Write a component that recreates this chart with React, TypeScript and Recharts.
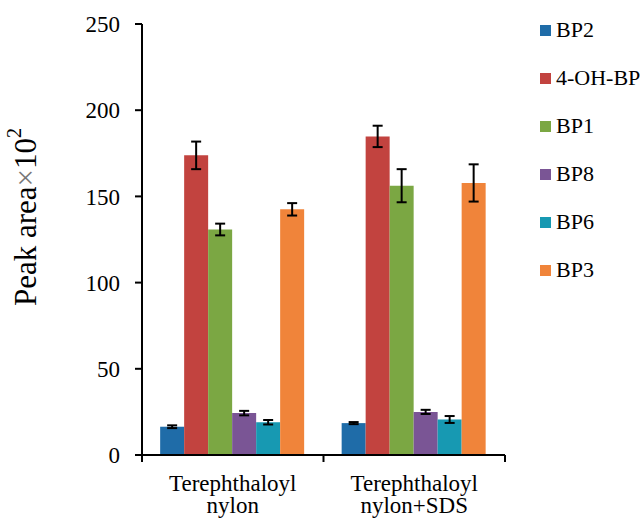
import React from "react";
import { BarChart, Bar, XAxis, YAxis, ErrorBar } from "recharts";

const categories = ["Terephthaloyl\nnylon", "Terephthaloyl\nnylon+SDS"];
const seriesNames = ["BP2", "4-OH-BP", "BP1", "BP8", "BP6", "BP3"];
const seriesColors = ["#1F6CA8", "#C2433F", "#7BA743", "#7A5595", "#1799B2", "#F0843A"];
const bp2 = [16.4, 18.5];
const ohbp = [173.8, 184.8];
const bp1 = [130.8, 156.2];
const bp8 = [24.3, 25.0];
const bp6 = [19.0, 20.6];
const bp3 = [142.5, 157.8];
const bp2Err = [0.8, 0.6];
const ohbpErr = [8, 6.2];
const bp1Err = [3.4, 9.6];
const bp8Err = [1.3, 1.2];
const bp6Err = [1.3, 2];
const bp3Err = [3.6, 10.8];
const yTicks = [0, 50, 100, 150, 200, 250];

const values = [bp2, ohbp, bp1, bp8, bp6, bp3];
const errors = [bp2Err, ohbpErr, bp1Err, bp8Err, bp6Err, bp3Err];

const data = categories.map((c, i) => {
  const row: Record<string, any> = { name: c };
  seriesNames.forEach((s, k) => {
    row["v" + k] = values[k][i];
    row["e" + k] = errors[k][i];
  });
  return row;
});

const W = 643;
const H = 519;
const margin = { top: 24, right: 138, bottom: 4, left: 62 };
const Y_W = 80;
const X_H = 60;
const plotW = W - margin.left - margin.right - Y_W;
const band = plotW / categories.length;
const FONT = "Liberation Serif, Times New Roman, serif";

const XTick = (props: any) => {
  const { x, y, payload, index } = props;
  const lines = String(payload.value).split("\n");
  const axisY = y;
  return (
    <g>
      {index === 0 && (
        <line x1={x - band / 2} x2={x - band / 2} y1={axisY} y2={axisY + 7} stroke="#000" strokeWidth={2} />
      )}
      <line x1={x + band / 2} x2={x + band / 2} y1={axisY} y2={axisY + 7} stroke="#000" strokeWidth={2} />
      <text x={x} y={axisY + 36} textAnchor="middle" fontFamily={FONT} fontSize={23} fill="#000">
        {lines.map((l, i) => (
          <tspan key={i} x={x} dy={i === 0 ? 0 : 22}>
            {l}
          </tspan>
        ))}
      </text>
    </g>
  );
};

const YLabel = () => (
  <text
    transform={`translate(25, 217) rotate(-90)`}
    textAnchor="middle"
    dominantBaseline="central"
    fontFamily={FONT}
    fontSize={31}
    fill="#000"
  >
    Peak area
    <tspan fill="#777">×</tspan>
    10
    <tspan dy={-11} fontSize={20}>2</tspan>
  </text>
);

export default function App() {
  return (
    <div style={{ position: "absolute", left: 0, top: 0, width: W, height: H, background: "#fff" }}>
      <BarChart width={W} height={H} data={data} margin={margin} barCategoryGap="10%" barGap={0}>
        <XAxis
          dataKey="name"
          height={X_H}
          axisLine={{ stroke: "#000", strokeWidth: 2 }}
          tickLine={false}
          tickSize={0}
          tickMargin={0}
          tick={<XTick />}
          interval={0}
        />
        <YAxis
          width={Y_W}
          domain={[0, 250]}
          ticks={yTicks}
          axisLine={{ stroke: "#000", strokeWidth: 2 }}
          tickLine={{ stroke: "#000", strokeWidth: 2 }}
          tickSize={7}
          tickMargin={15}
          tick={{ fill: "#000", fontFamily: FONT, fontSize: 23 }}
          label={<YLabel />}
        />
        {seriesNames.map((s, k) => (
          <Bar key={s} dataKey={"v" + k} name={s} fill={seriesColors[k]} isAnimationActive={false}>
            <ErrorBar dataKey={"e" + k} width={5} stroke="#000" strokeWidth={2} />
          </Bar>
        ))}
      </BarChart>
      <div style={{ position: "absolute", left: 540, top: 0 }}>
        {seriesNames.map((s, k) => (
          <div
            key={s}
            style={{
              position: "absolute",
              top: 30 + k * 48 - 13,
              left: 0,
              height: 26,
              display: "flex",
              alignItems: "center",
              whiteSpace: "nowrap",
              fontFamily: FONT,
              fontSize: 22,
              color: "#000",
            }}
          >
            <span style={{ display: "inline-block", width: 11, height: 11, background: seriesColors[k], marginRight: 5 }} />
            {s}
          </div>
        ))}
      </div>
    </div>
  );
}
